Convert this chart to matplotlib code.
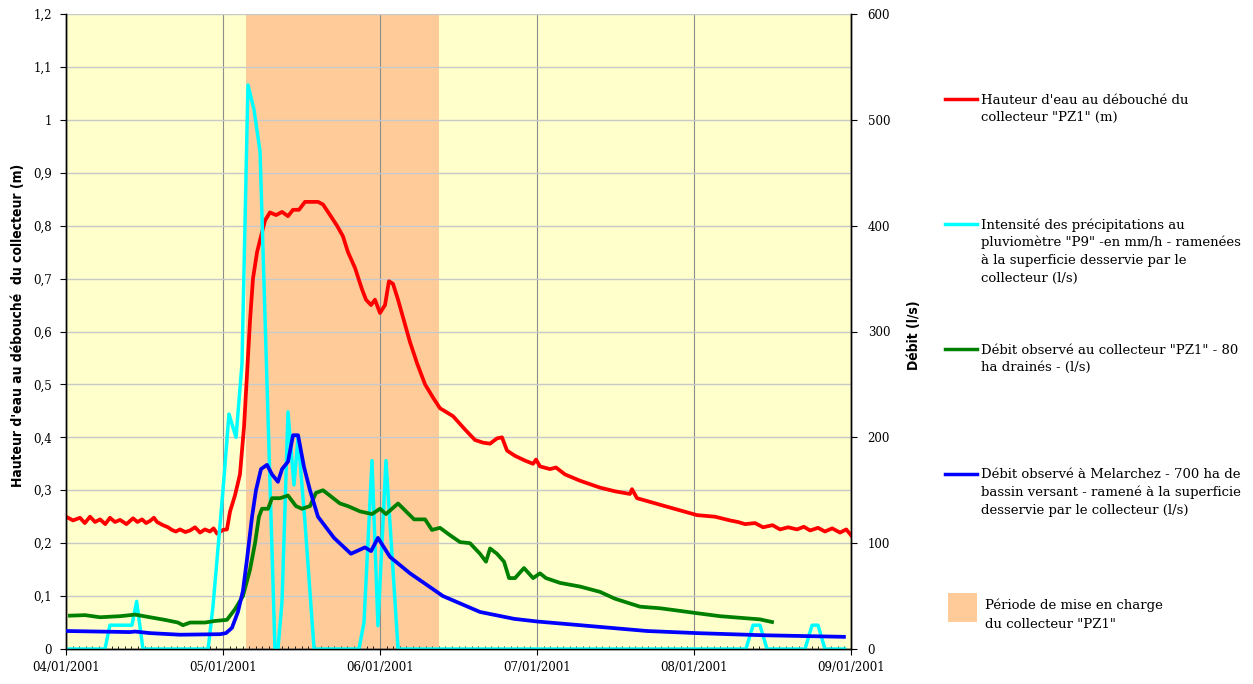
import matplotlib
matplotlib.use("Agg")
import matplotlib.pyplot as plt
import numpy as np
from matplotlib.lines import Line2D
from matplotlib.patches import Rectangle
from matplotlib.ticker import FuncFormatter
from matplotlib import font_manager

# time in days after 04/01/2001 00:00
date_labels = ["04/01/2001", "05/01/2001", "06/01/2001", "07/01/2001", "08/01/2001", "09/01/2001"]
charge_start, charge_end = 1.146, 2.376

# water height at collector outlet (m), left axis
hauteur_t = [0.000, 0.045, 0.089, 0.120, 0.153, 0.185, 0.217, 0.250, 0.280, 0.312, 0.344, 0.385,
             0.427, 0.455, 0.484, 0.510, 0.535, 0.560, 0.580, 0.618, 0.650, 0.675, 0.700, 0.726,
             0.760, 0.790, 0.822, 0.854, 0.885, 0.917, 0.940, 0.962, 1.000, 1.025, 1.045, 1.076,
             1.108, 1.134, 1.153, 1.172, 1.191, 1.217, 1.242, 1.268, 1.299, 1.338, 1.376, 1.414,
             1.446, 1.484, 1.522, 1.561, 1.605, 1.637, 1.682, 1.726, 1.764, 1.796, 1.841, 1.885,
             1.911, 1.943, 1.968, 2.000, 2.032, 2.057, 2.083, 2.115, 2.153, 2.191, 2.236, 2.287,
             2.338, 2.382, 2.465, 2.541, 2.605, 2.656, 2.701, 2.745, 2.777, 2.809, 2.860, 2.924,
             2.975, 2.994, 3.019, 3.083, 3.121, 3.178, 3.274, 3.401, 3.497, 3.592, 3.605, 3.637,
             3.720, 3.815, 3.911, 4.019, 4.134, 4.229, 4.280, 4.325, 4.389, 4.440, 4.500, 4.548,
             4.600, 4.656, 4.700, 4.739, 4.790, 4.834, 4.880, 4.930, 4.970, 5.000]
hauteur_m = [0.250, 0.243, 0.248, 0.238, 0.250, 0.240, 0.245, 0.236, 0.248, 0.240, 0.244, 0.236,
             0.247, 0.240, 0.245, 0.238, 0.242, 0.248, 0.240, 0.234, 0.230, 0.225, 0.222, 0.226,
             0.221, 0.224, 0.230, 0.220, 0.226, 0.222, 0.228, 0.218, 0.225, 0.226, 0.260, 0.290,
             0.330, 0.420, 0.520, 0.620, 0.700, 0.750, 0.780, 0.810, 0.825, 0.820, 0.826, 0.818,
             0.830, 0.830, 0.845, 0.845, 0.845, 0.840, 0.820, 0.800, 0.780, 0.750, 0.720, 0.680,
             0.660, 0.650, 0.660, 0.635, 0.650, 0.695, 0.690, 0.660, 0.620, 0.580, 0.540, 0.500,
             0.475, 0.455, 0.440, 0.415, 0.395, 0.390, 0.388, 0.398, 0.400, 0.375, 0.365, 0.356,
             0.350, 0.358, 0.345, 0.340, 0.343, 0.330, 0.318, 0.305, 0.298, 0.293, 0.302, 0.285,
             0.278, 0.270, 0.262, 0.253, 0.250, 0.243, 0.240, 0.236, 0.238, 0.230, 0.234, 0.226,
             0.230, 0.226, 0.231, 0.224, 0.229, 0.222, 0.228, 0.220, 0.226, 0.215]

# rainfall intensity at P9 (l/s), right axis
pluie_t = [0.000, 0.248, 0.280, 0.420, 0.450, 0.490, 0.905, 0.936, 1.000, 1.038, 1.083, 1.121,
           1.159, 1.197, 1.236, 1.331, 1.350, 1.376, 1.414, 1.452, 1.478, 1.522, 1.567, 1.580,
           1.866, 1.898, 1.949, 1.987, 2.038, 2.115, 4.331, 4.376, 4.420, 4.465, 4.707, 4.752,
           4.790, 4.834, 4.960]
pluie_ls = [0, 0, 22.5, 22.5, 45, 0, 0, 40, 150, 222, 200, 270,
            533, 510, 470, 0, 0, 45, 224, 155, 200, 120, 27, 0,
            0, 25, 178, 22, 178, 0, 0, 22.5, 22.5, 0, 0, 22.5,
            22.5, 0, 0]

# observed flow at collector PZ1 (l/s), right axis
pz1_t = [0.025, 0.121, 0.217, 0.344, 0.440, 0.535, 0.631, 0.713, 0.745, 0.790, 0.885, 0.949,
         1.025, 1.076, 1.127, 1.172, 1.204, 1.229, 1.248, 1.287, 1.312, 1.363, 1.414, 1.465,
         1.503, 1.554, 1.592, 1.637, 1.745, 1.796, 1.873, 1.949, 2.000, 2.038, 2.115, 2.166,
         2.217, 2.287, 2.331, 2.382, 2.446, 2.510, 2.573, 2.637, 2.675, 2.701, 2.745, 2.790,
         2.822, 2.860, 2.917, 2.975, 3.019, 3.057, 3.146, 3.274, 3.401, 3.497, 3.656, 3.783,
         3.911, 4.010, 4.166, 4.293, 4.420, 4.497]
pz1_ls = [31.5, 32, 30, 31, 32.5, 30, 27.5, 25, 22.5, 25, 25, 26.5,
          27.5, 37.5, 50, 75, 100, 125, 132.5, 132.5, 142.5, 142.5, 145, 135,
          132.5, 135, 147.5, 150, 137.5, 135, 130, 127.5, 132.5, 127.5, 137.5, 130,
          122.5, 122.5, 112.5, 114.5, 107.5, 101, 100, 90, 82.5, 95, 90, 82.5,
          67, 67, 76.5, 67, 71.5, 67, 62.5, 59, 54, 47.5, 40, 38.5,
          36, 34, 31, 29.5, 28, 25.5]

# observed flow at Melarchez scaled to collector area (l/s), right axis
melarchez_t = [0.000, 0.408, 0.440, 0.535, 0.726, 0.981, 1.019, 1.057, 1.095, 1.127, 1.153, 1.185,
               1.210, 1.242, 1.280, 1.312, 1.350, 1.376, 1.414, 1.446, 1.478, 1.516, 1.554, 1.605,
               1.707, 1.815, 1.904, 1.943, 1.987, 2.064, 2.191, 2.299, 2.401, 2.637, 2.854, 3.000,
               3.274, 3.701, 4.019, 4.439, 4.955]
melarchez_ls = [17, 16, 16.5, 15, 13.5, 14, 15, 20, 35, 55, 85, 125,
                150, 170, 174, 165, 158, 170, 177, 202, 202, 172, 150, 125,
                105, 90, 96, 92.5, 105, 87, 71.5, 60.5, 50, 35, 28.5, 26,
                22.5, 17, 15, 13, 11.5]

fig = plt.figure(figsize=(12.53, 6.84), dpi=100)
W, H = 1253.0, 684.0
ax = fig.add_axes([66 / W, 1 - 649 / H, 785 / W, 635 / H])
ax2 = ax.twinx()

serif = ["DejaVu Serif"]
ax.set_facecolor("#FFFFCC")
ax.axvspan(charge_start, charge_end, color="#FFCC99", lw=0, zorder=0.2)
ax.set_axisbelow(True)

ax.plot(hauteur_t, hauteur_m, color="#FF0000", lw=2.7, zorder=3)
ax2.plot(pluie_t, pluie_ls, color="#00FFFF", lw=2.5, zorder=2)
ax2.plot(pz1_t, pz1_ls, color="#008000", lw=2.7, zorder=3)
ax2.plot(melarchez_t, melarchez_ls, color="#0000FF", lw=2.7, zorder=4)

ax.set_xlim(0, 5)
ax.set_ylim(0, 1.2)
ax2.set_ylim(0, 600)

ax.set_xticks(range(len(date_labels)))
ax.set_xticklabels(date_labels, family=serif, fontsize=8.5)
ax.set_xticks(np.arange(0, 5, 1 / 24), minor=True)
ax.set_yticks(np.arange(0, 1.21, 0.1))
ax.yaxis.set_major_formatter(FuncFormatter(lambda v, p: f"{v:.1f}".rstrip("0").rstrip(".").replace(".", ",") if v else "0"))
ax2.set_yticks(range(0, 601, 100))

ax.tick_params(axis="x", which="major", direction="out", length=4, pad=5)
ax.tick_params(axis="x", which="minor", direction="in", length=2, width=0.6)
ax.tick_params(axis="y", direction="out", length=4, labelsize=8.5, pad=6)
ax2.tick_params(axis="y", direction="out", length=4, labelsize=8.5, pad=8)
for lab in ax.get_yticklabels() + ax2.get_yticklabels():
    lab.set_family(serif)

ax.grid(axis="y", color="#C8C8C8", lw=1)
ax.grid(axis="x", which="major", color="#8C8C8C", lw=0.8)

for a in (ax, ax2):
    a.spines["top"].set_visible(False)
    for s in ("left", "right", "bottom"):
        a.spines[s].set_color("black")
        a.spines[s].set_linewidth(1)

# narrow bold font for the axis titles, if one is installed
installed = {f.name for f in font_manager.fontManager.ttflist}
narrow = [n for n in ["Liberation Sans Narrow", "DejaVu Sans Condensed"] if n in installed]
label_font = dict(family=narrow + ["DejaVu Sans"], fontweight="bold", fontsize=10,
                  fontstretch="condensed")
fig.text(18 / W, 1 - 325 / H, "Hauteur d'eau au débouché  du collecteur (m)", rotation=90,
         ha="center", va="center", **label_font)
fig.text(914 / W, 1 - 335 / H, "Débit (l/s)", rotation=90, ha="center", va="center", **label_font)

# legend drawn by hand at the right of the plot
entries = [
    ("#FF0000", 99, ["Hauteur d'eau au débouché du", "collecteur \"PZ1\" (m)"]),
    ("#00FFFF", 224, ["Intensité des précipitations au", "pluviomètre \"P9\" -en mm/h - ramenées",
                      "à la superficie desservie par le", "collecteur (l/s)"]),
    ("#008000", 349, ["Débit observé au collecteur \"PZ1\" - 80", "ha drainés - (l/s)"]),
    ("#0000FF", 474, ["Débit observé à Melarchez - 700 ha de", "bassin versant - ramené à la superficie",
                      "desservie par le collecteur (l/s)"]),
]
for color, y, lines in entries:
    fig.add_artist(Line2D([945 / W, 977 / W], [1 - y / H, 1 - y / H], color=color, lw=2.5))
    for i, line in enumerate(lines):
        fig.text(981 / W, 1 - (y + 1 + 17.7 * i) / H, line, ha="left", va="center",
                 family=serif, fontsize=9.5)
fig.add_artist(Rectangle((948 / W, 1 - 622 / H), 29 / W, 29 / H, color="#FFCC99", lw=0))
for i, line in enumerate(["Période de mise en charge", "du collecteur \"PZ1\""]):
    fig.text(985 / W, 1 - (605 + 19 * i) / H, line, ha="left", va="center", family=serif, fontsize=9.5)

fig.savefig("out.png", dpi=100)
